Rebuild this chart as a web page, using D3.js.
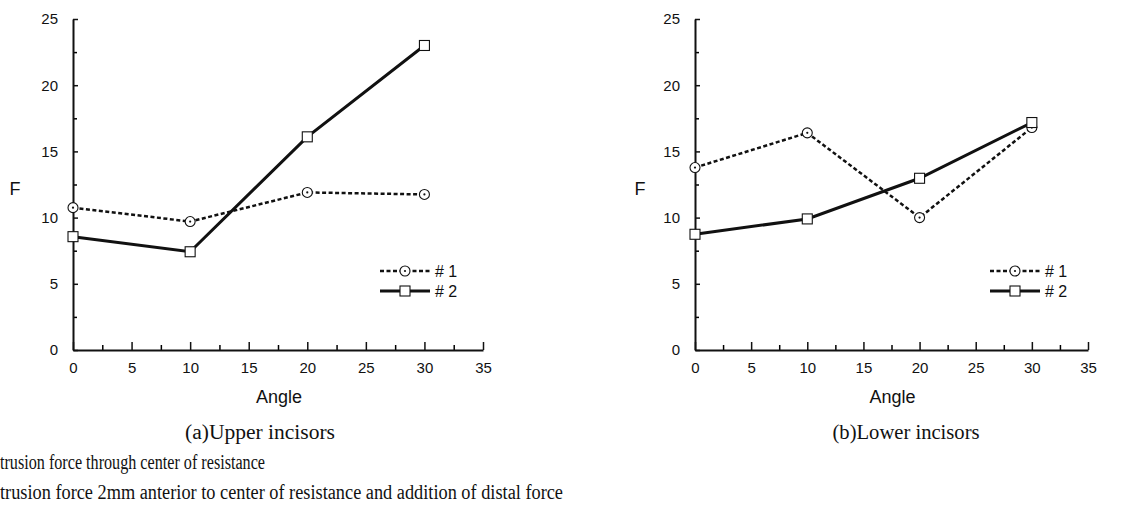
<!DOCTYPE html>
<html lang="en">
  <head>
    <meta charset="UTF-8" />
    <title>Force vs Angle</title>
    <style>
      body { margin: 0; background: #fff; }
      .tick text { font-family: 'Liberation Sans', Arial, sans-serif; font-size: 15px; fill: #111; }
      .axis-label { font-family: 'Liberation Sans', Arial, sans-serif; font-size: 18px; fill: #111; }
      .caption { font-family: 'Liberation Serif', 'DejaVu Serif', serif; font-size: 20px; fill: #111; }
      .legend text { font-family: 'Liberation Sans', Arial, sans-serif; font-size: 16px; fill: #111; }
    </style>
  </head>
  <body>
    <script src="https://cdn.jsdelivr.net/npm/d3@7"></script>
    <script>
      const width = 1123;
      const height = 516;

      // data
      const angles = [0, 10, 20, 30];
      const upper1 = [10.75, 9.7, 11.9, 11.75];
      const upper2 = [8.56, 7.42, 16.1, 23.0];
      const lower1 = [13.78, 16.4, 10.0, 16.8];
      const lower2 = [8.74, 9.9, 12.97, 17.18];
      const xTicks = [0, 5, 10, 15, 20, 25, 30, 35];
      const yTicks = [0, 5, 10, 15, 20, 25];
      const seriesNames = ['# 1', '# 2'];
      const captions = ['(a)Upper incisors', '(b)Lower incisors'];
      const notes = [
        'trusion force through center of resistance',
        'trusion force 2mm anterior to center of resistance and addition of distal force'
      ];

      const svg = d3.select('body').append('svg')
        .attr('width', width)
        .attr('height', height);

      const panels = [
        { left: 73, right: 483, s1: upper1, s2: upper2, legX: 380, capX: 260, capW: 150, fX: 15 },
        { left: 695, right: 1088, s1: lower1, s2: lower2, legX: 990, capX: 906, capW: 147, fX: 640 }
      ];

      panels.forEach((p, pi) => {
        const x = d3.scaleLinear().domain([0, 35]).range([p.left, p.right]);
        const y = d3.scaleLinear().domain([0, 25]).range([350, 19]);

        const minorX = d3.range(2.5, 35, 5);
        const minorY = d3.range(2.5, 25, 5);

        // minor ticks
        svg.append('g')
          .attr('transform', 'translate(0,350)')
          .call(d3.axisBottom(x).tickValues(minorX).tickFormat('').tickSize(-5).tickSizeOuter(0))
          .call(g => g.select('.domain').remove())
          .selectAll('line').attr('stroke-width', 1.5);
        svg.append('g')
          .attr('transform', `translate(${p.left},0)`)
          .call(d3.axisLeft(y).tickValues(minorY).tickFormat('').tickSize(-4).tickSizeOuter(0))
          .call(g => g.select('.domain').remove())
          .selectAll('line').attr('stroke-width', 1.5);

        // main axes
        const xAxis = svg.append('g')
          .attr('transform', 'translate(0,350)')
          .call(d3.axisBottom(x).tickValues(xTicks).tickSize(-8).tickSizeOuter(0).tickPadding(12));
        const yAxis = svg.append('g')
          .attr('transform', `translate(${p.left},0)`)
          .call(d3.axisLeft(y).tickValues(yTicks).tickSize(-5).tickSizeOuter(0).tickPadding(15));
        [xAxis, yAxis].forEach(a => {
          a.select('.domain').attr('stroke-width', 2).attr('stroke', '#111');
          a.selectAll('.tick line').attr('stroke-width', 1.5).attr('stroke', '#111');
        });

        svg.append('text')
          .attr('class', 'axis-label')
          .attr('x', (p.left + p.right) / 2 + 1)
          .attr('y', 403)
          .attr('text-anchor', 'middle')
          .text('Angle');
        svg.append('text')
          .attr('class', 'axis-label')
          .attr('x', p.fX)
          .attr('y', 195)
          .attr('text-anchor', 'middle')
          .text('F');

        const line = d3.line()
          .x((d, i) => x(angles[i]))
          .y(d => y(d));

        svg.append('path')
          .datum(p.s1)
          .attr('d', line)
          .attr('fill', 'none')
          .attr('stroke', '#111')
          .attr('stroke-width', 2.5)
          .attr('stroke-dasharray', '4,2.5');
        svg.append('path')
          .datum(p.s2)
          .attr('d', line)
          .attr('fill', 'none')
          .attr('stroke', '#111')
          .attr('stroke-width', 3);

        const drawCircle = (g, cx, cy) => {
          g.append('circle').attr('cx', cx).attr('cy', cy).attr('r', 5)
            .attr('fill', '#fff').attr('stroke', '#111').attr('stroke-width', 1.1);
          g.append('circle').attr('cx', cx).attr('cy', cy).attr('r', 1.1).attr('fill', '#111');
        };
        const drawSquare = (g, cx, cy) => {
          g.append('rect').attr('x', cx - 5).attr('y', cy - 5).attr('width', 10).attr('height', 10)
            .attr('fill', '#fff').attr('stroke', '#111').attr('stroke-width', 1.1);
        };

        const marks = svg.append('g');
        p.s1.forEach((v, i) => drawCircle(marks, x(angles[i]), y(v)));
        p.s2.forEach((v, i) => drawSquare(marks, x(angles[i]), y(v)));

        // legend
        const leg = svg.append('g').attr('class', 'legend');
        const legY = [271, 291];
        leg.append('line')
          .attr('x1', p.legX).attr('x2', p.legX + 50)
          .attr('y1', legY[0]).attr('y2', legY[0])
          .attr('stroke', '#111').attr('stroke-width', 2.5).attr('stroke-dasharray', '4,2.5');
        leg.append('line')
          .attr('x1', p.legX).attr('x2', p.legX + 50)
          .attr('y1', legY[1]).attr('y2', legY[1])
          .attr('stroke', '#111').attr('stroke-width', 3);
        drawCircle(leg, p.legX + 25, legY[0]);
        drawSquare(leg, p.legX + 25, legY[1]);
        seriesNames.forEach((n, i) => {
          leg.append('text')
            .attr('x', p.legX + 55)
            .attr('y', legY[i] + 6)
            .text(n);
        });

        svg.append('text')
          .attr('class', 'caption')
          .attr('x', p.capX - p.capW / 2)
          .attr('y', 439)
          .attr('textLength', p.capW)
          .attr('lengthAdjust', 'spacingAndGlyphs')
          .text(captions[pi]);
      });

      const noteW = [265, 563];
      notes.forEach((t, i) => {
        svg.append('text')
          .attr('class', 'caption')
          .attr('x', 0)
          .attr('y', 469 + i * 30)
          .attr('textLength', noteW[i])
          .attr('lengthAdjust', 'spacingAndGlyphs')
          .text(t);
      });
    </script>
  </body>
</html>
